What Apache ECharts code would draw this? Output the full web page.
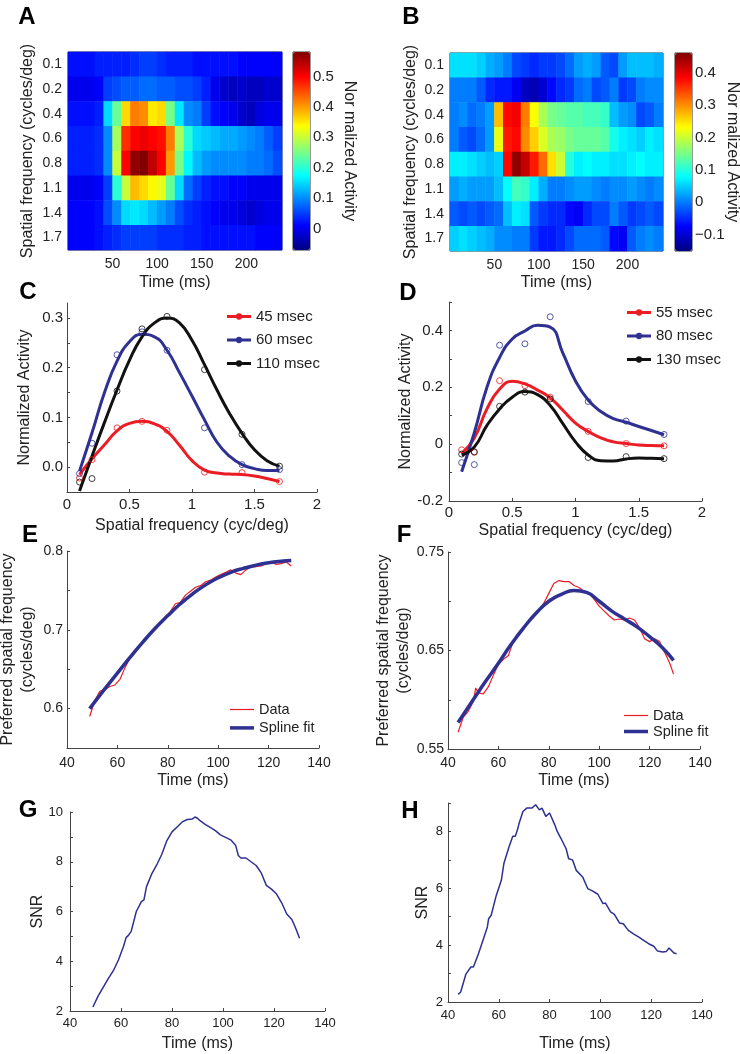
<!DOCTYPE html>
<html>
<head>
<meta charset="utf-8">
<script src="https://cdn.jsdelivr.net/npm/echarts@6/dist/echarts.min.js"></script>
<style>
  html, body { margin: 0; padding: 0; background: #fff; }
  #main { width: 740px; height: 1054px; }
</style>
</head>
<body>
<div id="main"></div>
<script>
// ---- data ----
// heatmaps A/B: rows = spatial frequency, columns = 10 ms time bins
const timeBins = ['0','10','20','30','40','50','60','70','80','90','100','110',
                  '120','130','140','150','160','170','180','190','200','210','220','230'];
const sfLabels = ['0.1','0.2','0.4','0.6','0.8','1.1','1.4','1.7'];

const actA = [
  [0.02,0.02,0.02,0.03,0.03,0.03,0.03,0.04,0.05,0.05,0.04,0.03,0.03,0.03,0.02,0.02,0.02,0.02,0.02,0.01,0.01,0.01,0.01,0.01],
  [0.00,0.00,0.00,0.01,0.05,0.06,0.07,0.07,0.08,0.08,0.07,0.07,0.06,0.06,0.05,0.03,0.00,-0.02,-0.03,-0.02,-0.03,-0.03,-0.02,-0.02],
  [0.02,0.02,0.02,0.03,0.15,0.24,0.36,0.42,0.41,0.35,0.36,0.25,0.16,0.10,0.09,0.05,0.02,0.01,0.00,-0.02,-0.03,-0.01,0.00,0.00],
  [0.03,0.03,0.03,0.04,0.10,0.28,0.47,0.50,0.51,0.50,0.49,0.42,0.28,0.20,0.15,0.14,0.13,0.12,0.12,0.11,0.10,0.09,0.07,0.05],
  [0.03,0.03,0.03,0.04,0.10,0.30,0.50,0.57,0.58,0.54,0.50,0.40,0.25,0.17,0.13,0.11,0.10,0.10,0.10,0.10,0.09,0.09,0.08,0.06],
  [0.00,0.00,0.00,0.01,0.05,0.20,0.30,0.38,0.36,0.34,0.32,0.24,0.15,0.08,0.05,0.03,0.02,0.02,0.01,0.01,0.00,0.00,0.00,0.00],
  [0.01,0.01,0.01,0.02,0.06,0.10,0.15,0.16,0.15,0.13,0.11,0.09,0.06,0.04,0.03,0.02,0.01,0.00,0.00,-0.01,-0.02,-0.01,0.00,0.00],
  [0.01,0.01,0.01,0.02,0.03,0.04,0.05,0.05,0.05,0.05,0.04,0.04,0.04,0.03,0.03,0.02,0.02,0.02,0.02,0.02,0.02,0.01,0.01,0.01]
];
const actB = [
  [0.06,0.06,0.06,0.05,0.03,0.02,0.00,-0.03,-0.04,-0.05,-0.04,-0.04,-0.03,-0.01,0.02,0.03,0.02,-0.02,-0.03,0.02,0.04,0.04,0.04,0.03],
  [0.00,0.00,0.00,-0.02,-0.05,-0.06,-0.06,-0.08,-0.11,-0.12,-0.10,-0.07,-0.05,-0.04,-0.01,0.00,-0.03,-0.02,0.00,-0.04,-0.03,0.00,0.01,0.01],
  [0.00,0.01,-0.01,0.00,0.02,0.27,0.38,0.39,0.31,0.23,0.18,0.15,0.14,0.13,0.13,0.12,0.12,0.11,0.04,0.02,0.01,-0.03,-0.02,0.00],
  [0.00,-0.02,-0.03,-0.01,0.02,0.22,0.37,0.38,0.30,0.26,0.21,0.18,0.17,0.15,0.14,0.14,0.14,0.13,0.09,0.07,0.06,0.05,0.07,0.06],
  [0.07,0.07,0.06,0.05,0.04,0.05,0.38,0.45,0.42,0.37,0.32,0.25,0.20,0.10,0.07,0.08,0.07,0.07,0.06,0.06,0.07,0.08,0.07,0.07],
  [0.02,0.03,0.02,0.02,0.02,0.04,0.08,0.12,0.11,0.07,0.03,0.00,0.00,0.01,0.02,0.02,0.01,0.00,0.01,0.01,0.02,0.01,0.00,0.01],
  [-0.02,-0.03,-0.02,-0.03,-0.02,-0.01,0.04,0.07,0.06,-0.02,-0.04,-0.05,-0.05,-0.07,-0.08,-0.05,-0.03,-0.03,0.00,-0.02,-0.04,-0.03,-0.02,-0.03],
  [0.05,0.06,0.05,0.04,0.03,0.01,0.01,0.00,0.00,-0.04,-0.06,-0.06,-0.05,-0.03,-0.01,-0.01,-0.01,-0.02,-0.07,-0.08,-0.02,0.00,0.01,0.00]
];
const cbTicksA = [0, 0.1, 0.2, 0.3, 0.4, 0.5];
const cbTicksB = [-0.1, 0, 0.1, 0.2, 0.3, 0.4];

// tuning curves C/D
const sfPts = [0.1, 0.2, 0.4, 0.6, 0.8, 1.1, 1.4, 1.7];
const sfFine = [0.1,0.2,0.3,0.4,0.5,0.6,0.7,0.8,0.9,1.0,1.1,1.2,1.3,1.4,1.5,1.6,1.7];

const pts45  = [-0.022, 0.015, 0.079, 0.092, 0.074, -0.010, -0.011, -0.029];
const pts60  = [-0.013, 0.048, 0.226, 0.272, 0.235, 0.079, 0.005, -0.005];
const pts110 = [-0.030, -0.023, 0.153, 0.278, 0.303, 0.196, 0.066, 0.002];
const fit45  = [-0.015,0.017,0.045,0.073,0.088,0.092,0.087,0.072,0.044,0.013,-0.006,-0.012,-0.014,-0.015,-0.018,-0.023,-0.029];
const fit60  = [-0.008,0.069,0.15,0.213,0.252,0.267,0.262,0.235,0.19,0.143,0.095,0.05,0.022,0.005,-0.003,-0.007,-0.007];
const fit110 = [-0.048,0.022,0.09,0.155,0.215,0.262,0.29,0.3,0.29,0.255,0.206,0.155,0.108,0.068,0.035,0.013,0.002];

const pts55  = [-0.020, -0.029, 0.223, 0.206, 0.165, 0.045, 0.002, -0.006];
const pts80  = [-0.065, -0.072, 0.348, 0.353, 0.448, 0.150, 0.081, 0.034];
const pts130 = [-0.035, -0.027, 0.133, 0.183, 0.159, -0.047, -0.044, -0.051];
const fit55  = [-0.033,0.022,0.124,0.194,0.221,0.212,0.19,0.163,0.119,0.074,0.045,0.022,0.008,0.002,-0.003,-0.005,-0.006];
const fit80  = [-0.097,0.04,0.2,0.305,0.37,0.398,0.418,0.412,0.32,0.222,0.155,0.115,0.09,0.077,0.062,0.048,0.033];
const fit130 = [-0.038,-0.01,0.066,0.124,0.165,0.185,0.174,0.136,0.072,0.008,-0.038,-0.058,-0.059,-0.052,-0.049,-0.05,-0.051];

// preferred spatial frequency E/F
const tDataE = [49,51,53,55,57,59,61,63,65,67,69,71,73,75,77,79,81,83,85,87,
                89,91,93,95,97,99,101,103,105,107,109,111,113,115,117,119,121,123,125,127,129];
const dataE  = [0.590,0.610,0.622,0.624,0.628,0.630,0.637,0.652,0.664,0.671,
                0.680,0.688,0.695,0.702,0.709,0.716,0.723,0.733,0.735,0.744,
                0.749,0.754,0.756,0.761,0.763,0.767,0.770,0.773,0.776,0.772,
                0.770,0.776,0.780,0.780,0.781,0.784,0.786,0.783,0.784,0.786,0.781];
const tFitE = [49,55,60,65,70,75,80,85,90,95,100,105,110,115,120,125,129];
const fitE  = [0.600,0.625,0.645,0.665,0.684,0.702,0.718,0.733,0.746,0.757,0.766,0.773,0.778,0.782,0.785,0.787,0.788];

const tDataF = [44,46,48,50,51,52,54,56,58,60,62,64,66,68,70,72,74,76,78,80,82,84,86,88,90,
                92,94,96,98,100,102,104,106,108,110,112,114,116,118,120,122,124,126,128,129.5];
const dataF  = [0.567,0.582,0.588,0.598,0.612,0.607,0.606,0.613,0.625,0.636,
                0.641,0.645,0.660,0.668,0.674,0.679,0.684,0.690,0.698,0.708,
                0.718,0.721,0.720,0.720,0.716,0.714,0.710,0.708,0.702,0.695,
                0.690,0.685,0.681,0.682,0.681,0.683,0.681,0.673,0.662,0.659,
                0.662,0.659,0.648,0.637,0.626];
const tFitF = [44,50,55,60,65,70,75,80,85,90,95,100,105,110,115,120,125,129.5];
const fitF  = [0.577,0.600,0.619,0.637,0.656,0.673,0.688,0.700,0.707,0.711,0.709,0.700,0.690,0.682,0.674,0.664,0.653,0.640];

// SNR G/H
const tG   = [49,51,53,55,57,59,61,62,63,64,66,68,69,70,72,74,76,78,80,82,
              84,86,88,89,90,91,93,95,97,99,101,103,105,106,107,109,111,113,115,117,
              119,121,123,125,127,128,129,130];
const snrG = [2.16,2.6,2.95,3.3,3.62,4.05,4.6,4.95,5.05,5.2,6.0,6.4,6.47,7.0,7.5,7.87,8.3,8.85,9.2,9.4,
              9.6,9.7,9.72,9.8,9.75,9.65,9.5,9.38,9.25,9.08,8.98,8.88,8.65,8.25,8.15,8.15,8.0,7.85,7.55,7.05,
              6.9,6.7,6.35,5.9,5.68,5.45,5.2,4.92];
const tH   = [44,45,47,49,50,52,54,55.5,56,57,59,61,62,64,65.5,66.5,67.5,68,69.5,71,
              73,74.5,76,77,78.5,80,82,83,84.5,86.5,87.5,89,90.5,93,95,97,99,101,102,104,
              105.5,107.5,109,111,113,115,117,119,121,122.5,124.5,126,127,129,130];
const snrH = [2.27,2.35,2.97,3.23,3.23,3.7,4.23,4.64,4.93,5.05,5.75,6.28,6.87,7.45,7.83,7.83,8.1,8.29,8.7,8.82,
              8.82,8.94,8.76,8.82,8.53,8.65,8.24,8.0,7.75,7.39,7.04,7.0,6.63,6.4,5.99,5.9,5.79,5.46,5.48,5.17,
              5.08,4.78,4.75,4.52,4.4,4.29,4.17,4.05,3.96,3.79,3.76,3.78,3.9,3.72,3.7];

// ---- style ----
const FONT = '"Liberation Sans", Arial, sans-serif';
const INK = '#222';
const AXIS = '#444';
const RED = '#ec1c24';
const NAVY = '#2e3192';
const BLACK = '#111';
const JET = ['#000080','#0000ff','#0080ff','#00ffff','#80ff80','#ffff00','#ff8000','#ff0000','#800000'];

// legend icons: line with a small dot, thin line, thick line
const ICON_DOT = 'path://M0,4.5H23V7.5H0Z M14.5,6A3,3 0 1,1 8.5,6A3,3 0 1,1 14.5,6Z';
const ICON_THIN = 'path://M0,0H24V1.2H0Z';
const ICON_THICK = 'path://M0,0H24V3.5H0Z';

function zip(xs, ys) {
  return xs.map((x, i) => [x, ys[i]]);
}

function cells(rows) {
  const out = [];
  rows.forEach((row, yi) => row.forEach((v, xi) => out.push([xi, yi, v])));
  return out;
}

function box(left, top, width, height, framed) {
  const g = { left, top, width, height, outerBoundsMode: 'none', containLabel: false };
  if (framed) Object.assign(g, { show: true, borderColor: '#333', borderWidth: 1, backgroundColor: 'transparent' });
  return g;
}

function valAxis(grid, o) {
  return {
    type: 'value', gridIndex: grid,
    min: o.min, max: o.max, interval: o.interval,
    position: o.position,
    show: o.show !== false,
    name: o.name || '', nameLocation: 'middle', nameGap: o.nameGap || 24,
    nameRotate: o.nameRotate, nameMoveOverlap: false,
    nameTextStyle: { color: INK, fontSize: 16, fontFamily: FONT, lineHeight: o.nameLh || 20 },
    axisLine: { show: o.line !== false, onZero: false, lineStyle: { color: AXIS, width: 1 } },
    axisTick: { show: o.tick !== false, inside: true, length: 3, customValues: o.ticks,
                lineStyle: { color: AXIS } },
    axisLabel: { color: INK, fontSize: o.fs || 14, fontFamily: FONT, margin: o.margin || 6,
                 customValues: o.labels, formatter: o.fmt },
    splitLine: { show: false }
  };
}

function catAxis(grid, data, o) {
  return {
    type: 'category', gridIndex: grid, data: data, show: o.show !== false,
    inverse: !!o.inverse,
    name: o.name || '', nameLocation: 'middle', nameGap: o.nameGap || 24, nameRotate: o.nameRotate,
    nameMoveOverlap: false,
    nameTextStyle: { color: INK, fontSize: 16, fontFamily: FONT },
    axisLine: { show: false }, axisTick: { show: false },
    axisLabel: { color: INK, fontSize: 14, fontFamily: FONT, margin: 6 },
    splitLine: { show: false }
  };
}

function curve(name, xi, yi, xs, ys, color, width, smooth) {
  return {
    name: name, type: 'line', xAxisIndex: xi, yAxisIndex: yi,
    data: zip(xs, ys), smooth: smooth, symbol: 'none',
    lineStyle: { color: color, width: width }, itemStyle: { color: color },
    emphasis: { disabled: true }, z: 3
  };
}

function dots(name, xi, yi, ys, color) {
  return {
    name: name, type: 'scatter', xAxisIndex: xi, yAxisIndex: yi,
    data: zip(sfPts, ys), symbol: 'circle', symbolSize: 6,
    itemStyle: { color: 'rgba(0,0,0,0)', borderColor: color, borderWidth: 1 },
    emphasis: { disabled: true }, z: 4
  };
}

function letter(t, x, y) {
  return {
    type: 'text', x: x, y: y, z: 10,
    style: { text: t, fill: '#000', font: 'bold 24px ' + FONT, align: 'center', verticalAlign: 'middle' }
  };
}

function legendBox(names, icons, left, top, gap, fs) {
  return {
    data: names.map((n, i) => ({ name: n, icon: icons[i] })),
    left: left, top: top, orient: 'vertical', padding: 0,
    itemWidth: 24, itemHeight: 10, itemGap: gap, selectedMode: false,
    textStyle: { color: INK, fontSize: fs, fontFamily: FONT, lineHeight: 14 }
  };
}

const fmt1 = v => v.toFixed(1);
const fmtMinus = v => (v < 0 ? '\u2212' + Math.abs(v) : String(v));

const chart = echarts.init(document.getElementById('main'), null, { renderer: 'canvas' });

chart.setOption({
  animation: false,
  backgroundColor: '#fff',
  grid: [
    box(68, 52, 214, 198, true),
    box(293, 52, 17, 198, true),
    box(450, 53, 213, 198, true),
    box(675, 53, 17, 198, true),
    box(67, 303, 250, 189),
    box(449, 302, 253, 199),
    box(67, 551, 252, 197),
    box(448, 552, 252, 197),
    box(70, 812, 255, 199),
    box(448, 803, 254, 199)
  ],
  xAxis: [
    catAxis(0, timeBins, { show: false }),
    valAxis(0, { min: 0, max: 240, position: 'bottom', line: false, tick: false, labels: [50, 100, 150, 200],
                 margin: 7, name: 'Time (ms)', nameGap: 23 }),
    valAxis(1, { min: 0, max: 1, show: false }),
    catAxis(2, timeBins, { show: false }),
    valAxis(2, { min: 0, max: 240, position: 'bottom', line: false, tick: false, labels: [50, 100, 150, 200],
                 margin: 7, name: 'Time (ms)', nameGap: 22 }),
    valAxis(3, { min: 0, max: 1, show: false }),
    valAxis(4, { min: 0, max: 2, interval: 0.5, fs: 15, margin: 5,
                 name: 'Spatial frequency (cyc/deg)', nameGap: 24 }),
    valAxis(5, { min: 0, max: 2, interval: 0.5, fs: 15, margin: 4,
                 name: 'Spatial frequency (cyc/deg)', nameGap: 20 }),
    valAxis(6, { min: 40, max: 140, interval: 20, margin: 8, name: 'Time (ms)', nameGap: 23 }),
    valAxis(7, { min: 40, max: 140, interval: 20, margin: 7, name: 'Time (ms)', nameGap: 22 }),
    valAxis(8, { min: 40, max: 140, interval: 20, fs: 13, margin: 6, name: 'Time (ms)', nameGap: 23 }),
    valAxis(9, { min: 40, max: 140, interval: 20, fs: 13, margin: 7, name: 'Time (ms)', nameGap: 32 })
  ],
  yAxis: [
    catAxis(0, sfLabels, { inverse: true, name: 'Spatial frequency (cycles/deg)', nameGap: 32, nameRotate: 90 }),
    valAxis(1, { min: -0.07, max: 0.58, position: 'right', line: false, ticks: cbTicksA, labels: cbTicksA,
                 margin: 3, fs: 15, name: 'Nor malized Activity', nameGap: 31, nameLh: 16, nameRotate: -90 }),
    catAxis(2, sfLabels, { inverse: true, name: 'Spatial frequency (cycles/deg)', nameGap: 31, nameRotate: 90 }),
    valAxis(3, { min: -0.15, max: 0.46, position: 'right', line: false, ticks: cbTicksB, labels: cbTicksB,
                 fmt: fmtMinus, margin: 3, fs: 15, name: 'Nor malized Activity', nameGap: 32, nameLh: 16,
                 nameRotate: -90 }),
    valAxis(4, { min: -0.05, max: 0.33, ticks: [-0.05, 0, 0.05, 0.1, 0.15, 0.2, 0.25, 0.3],
                 labels: [0, 0.1, 0.2, 0.3], fmt: fmt1, fs: 15, margin: 4,
                 name: 'Normalized Activity', nameGap: 32, nameRotate: 90 }),
    valAxis(5, { min: -0.2, max: 0.5, interval: 0.1, labels: [-0.2, 0, 0.2, 0.4], fs: 15, margin: 6,
                 name: 'Normalized Activity', nameGap: 33, nameRotate: 90 }),
    valAxis(6, { min: 0.55, max: 0.8, interval: 0.05, labels: [0.6, 0.7, 0.8], fmt: fmt1, margin: 4,
                 name: 'Preferred spatial frequency\n(cycles/deg)', nameGap: 29, nameRotate: 90 }),
    valAxis(7, { min: 0.55, max: 0.75, interval: 0.05, labels: [0.55, 0.65, 0.75], margin: 4,
                 name: 'Preferred spatial frequency\n(cycles/deg)', nameGap: 34, nameRotate: 90 }),
    valAxis(8, { min: 2, max: 10, interval: 1, labels: [2, 4, 6, 8, 10], fs: 13, margin: 7,
                 name: 'SNR', nameGap: 22, nameRotate: 90 }),
    valAxis(9, { min: 2, max: 9, interval: 1, labels: [2, 4, 6, 8], fs: 13, margin: 5,
                 name: 'SNR', nameGap: 15, nameRotate: 90 })
  ],
  visualMap: [
    { type: 'continuous', seriesIndex: 0, min: -0.07, max: 0.58, calculable: false, hoverLink: false,
      left: 293, top: 52, itemWidth: 17, itemHeight: 198, padding: 0, text: null,
      inRange: { color: JET } },
    { type: 'continuous', seriesIndex: 1, min: -0.15, max: 0.46, calculable: false, hoverLink: false,
      left: 675, top: 53, itemWidth: 17, itemHeight: 198, padding: 0, text: null,
      inRange: { color: JET } }
  ],
  legend: [
    legendBox(['45 msec', '60 msec', '110 msec'], [ICON_DOT, ICON_DOT, ICON_DOT], 227, 309, 8.5, 15),
    legendBox(['55 msec', '80 msec', '130 msec'], [ICON_DOT, ICON_DOT, ICON_DOT], 627, 305, 8.5, 15),
    legendBox(['Data', 'Spline fit'], [ICON_THIN, ICON_THICK], 230, 702, 3.4, 14.5),
    legendBox(['Data', 'Spline fit'], [ICON_THIN, ICON_THICK], 624, 708, 1, 14.5)
  ],
  graphic: [
    letter('A', 27, 17), letter('B', 411, 17),
    letter('C', 28, 292), letter('D', 408, 293),
    letter('E', 30, 535), letter('F', 404, 535),
    letter('G', 28, 810), letter('H', 410, 811)
  ],
  series: [
    { type: 'heatmap', xAxisIndex: 0, yAxisIndex: 0, data: cells(actA), progressive: 0,
      itemStyle: { borderWidth: 0 }, emphasis: { disabled: true } },
    { type: 'heatmap', xAxisIndex: 3, yAxisIndex: 2, data: cells(actB), progressive: 0,
      itemStyle: { borderWidth: 0 }, emphasis: { disabled: true } },

    curve('45 msec', 6, 4, sfFine, fit45, RED, 3, 0.5),
    curve('60 msec', 6, 4, sfFine, fit60, NAVY, 3, 0.5),
    curve('110 msec', 6, 4, sfFine, fit110, BLACK, 3, 0.5),
    dots('pts45', 6, 4, pts45, RED),
    dots('pts60', 6, 4, pts60, NAVY),
    dots('pts110', 6, 4, pts110, BLACK),

    curve('55 msec', 7, 5, sfFine, fit55, RED, 3, 0.5),
    curve('80 msec', 7, 5, sfFine, fit80, NAVY, 3, 0.5),
    curve('130 msec', 7, 5, sfFine, fit130, BLACK, 3, 0.5),
    dots('pts55', 7, 5, pts55, RED),
    dots('pts80', 7, 5, pts80, NAVY),
    dots('pts130', 7, 5, pts130, BLACK),

    curve('Data', 8, 6, tDataE, dataE, RED, 1.2, false),
    curve('Spline fit', 8, 6, tFitE, fitE, NAVY, 3.5, 0.5),
    curve('Data', 9, 7, tDataF, dataF, RED, 1.2, false),
    curve('Spline fit', 9, 7, tFitF, fitF, NAVY, 3.5, 0.5),

    curve('snrG', 10, 8, tG, snrG, NAVY, 1.5, false),
    curve('snrH', 11, 9, tH, snrH, NAVY, 1.5, false)
  ]
});
</script>
</body>
</html>
